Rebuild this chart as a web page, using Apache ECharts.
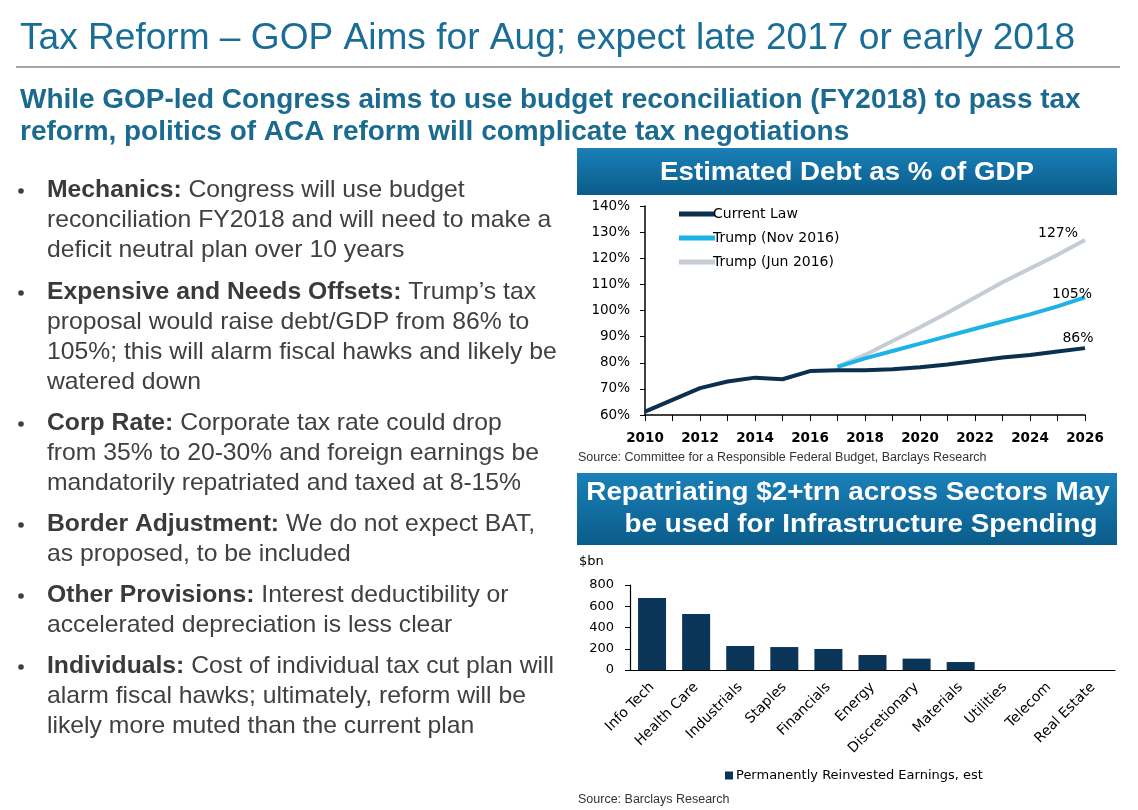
<!DOCTYPE html>
<html>
<head>
<meta charset="utf-8">
<script src="https://cdn.jsdelivr.net/npm/echarts@6/dist/echarts.min.js"></script>
<style>
html,body{margin:0;padding:0;background:#fff;}
#c{width:1138px;height:810px;}
</style>
</head>
<body>
<div id="c"></div>
<script>
// ---- data ----
var years = ['2010','2011','2012','2013','2014','2015','2016','2017','2018','2019','2020','2021','2022','2023','2024','2025','2026'];
var currentLaw = [61.3, 65.8, 70.3, 72.8, 74.3, 73.7, 76.8, 77.1, 77.1, 77.5, 78.3, 79.3, 80.7, 82.0, 83.0, 84.3, 85.6];
var trumpNov = [null, null, null, null, null, null, null, 78.4, 81.7, 84.5, 87.3, 90.2, 93.0, 95.8, 98.5, 101.6, 105.0];
var trumpJun = [null, null, null, null, null, null, null, 78.4, 83.0, 88.3, 93.6, 99.1, 105.0, 110.8, 116.1, 121.3, 127.0];
var endLabels = ['86%', '105%', '127%'];
var sectors = ['Info Tech','Health Care','Industrials','Staples','Financials','Energy','Discretionary','Materials','Utilities','Telecom','Real Estate'];
var earnings = [677, 527, 226, 216, 198, 141, 107, 75, 0, 0, 0];

var FONT = '"Liberation Sans", Arial, sans-serif';
var CFONT = '"DejaVu Sans", Verdana, sans-serif';
var chart = echarts.init(document.getElementById('c'));

var bullets = [
  { y: 175, t: '{b|Mechanics:} Congress will use budget\nreconciliation FY2018 and will need to make a\ndeficit neutral plan over 10 years' },
  { y: 277, t: '{b|Expensive and Needs Offsets:} Trump\u2019s tax\nproposal would raise debt/GDP from 86% to\n105%; this will alarm fiscal hawks and likely be\nwatered down' },
  { y: 408, t: '{b|Corp Rate:} Corporate tax rate could drop\nfrom 35% to 20-30% and foreign earnings be\nmandatorily repatriated and taxed at 8-15%' },
  { y: 509, t: '{b|Border Adjustment:} We do not expect BAT,\nas proposed, to be included' },
  { y: 580, t: '{b|Other Provisions:} Interest deductibility or\naccelerated depreciation is less clear' },
  { y: 651, t: '{b|Individuals:} Cost of individual tax cut plan will\nalarm fiscal hawks; ultimately, reform will be\nlikely more muted than the current plan' }
];

var bannerFill = function () {
  return new echarts.graphic.LinearGradient(0, 0, 0, 1, [{ offset: 0, color: '#1a80b8' }, { offset: 1, color: '#0a5c8a' }]);
};

var graphics = [
  { type: 'text', x: 20, y: 39, scaleX: 1.03, style: { text: 'Tax Reform \u2013 GOP Aims for Aug; expect late 2017 or early 2018',
      font: '36px ' + FONT, fill: '#1a6d97', textVerticalAlign: 'middle' } },
  { type: 'rect', shape: { x: 16, y: 66, width: 1104, height: 2 }, style: { fill: '#a6a6a6' } },
  { type: 'text', x: 20, y: 85, scaleX: 1.035, style: { text: 'While GOP-led Congress aims to use budget reconciliation (FY2018) to pass tax\nreform, politics of ACA reform will complicate tax negotiations',
      font: 'bold 27px ' + FONT, fill: '#1b6a8f', lineHeight: 32 } },
  { type: 'rect', shape: { x: 577, y: 148, width: 540, height: 47 }, style: { fill: bannerFill() } },
  { type: 'text', x: 847, y: 173, scaleX: 1.065, style: { text: 'Estimated Debt as % of GDP', font: 'bold 26px ' + FONT, fill: '#fff',
      textAlign: 'center', textVerticalAlign: 'middle' } },
  { type: 'text', x: 578, y: 451, style: { text: 'Source: Committee for a Responsible Federal Budget, Barclays Research',
      font: '12.5px ' + FONT, fill: '#333' } },
  { type: 'rect', shape: { x: 577, y: 473, width: 540, height: 72 }, style: { fill: bannerFill() } },
  { type: 'text', x: 848, y: 493, scaleX: 1.07, style: { text: 'Repatriating $2+trn across Sectors May', font: 'bold 26px ' + FONT, fill: '#fff',
      textAlign: 'center', textVerticalAlign: 'middle' } },
  { type: 'text', x: 861, y: 525, scaleX: 1.07, style: { text: 'be used for Infrastructure Spending', font: 'bold 26px ' + FONT, fill: '#fff',
      textAlign: 'center', textVerticalAlign: 'middle' } },
  { type: 'text', x: 579, y: 555, style: { text: '$bn', font: '13px ' + CFONT, fill: '#000' } },
  { type: 'text', x: 578, y: 793, style: { text: 'Source: Barclays Research', font: '12.5px ' + FONT, fill: '#333' } }
];
bullets.forEach(function (b) {
  graphics.push({ type: 'circle', shape: { cx: 21, cy: b.y + 16, r: 2.8 }, style: { fill: '#404040' } });
  graphics.push({ type: 'text', x: 47, y: b.y, scaleX: 1.03, style: {
    text: b.t, font: '24px ' + FONT, fill: '#404040', lineHeight: 30,
    rich: { b: { font: 'bold 24px ' + FONT, fill: '#3a3a3a', lineHeight: 30 } }
  } });
});

function endLabel(text, offset) {
  return { show: true, formatter: text, color: '#000', fontSize: 14, fontFamily: CFONT,
    align: 'center', verticalAlign: 'middle', distance: 0, offset: offset };
}

var option = {
  backgroundColor: '#fff',
  animation: false,
  textStyle: { fontFamily: CFONT },
  graphic: graphics,
  legend: [
    { orient: 'vertical', left: 674, top: 202, itemWidth: 36, itemHeight: 5, itemGap: 10, icon: 'rect',
      textStyle: { fontSize: 14, color: '#000', fontFamily: CFONT, padding: [0, 0, 0, -7] },
      data: ['Current Law', 'Trump (Nov 2016)', 'Trump (Jun 2016)'] },
    { left: 720, top: 764, itemWidth: 8, itemHeight: 8, icon: 'rect', itemGap: 4,
      textStyle: { fontSize: 13, color: '#000', fontFamily: CFONT, padding: [0, 0, 0, -2] },
      data: ['Permanently Reinvested Earnings, est'] }
  ],
  grid: [
    { left: 645, top: 206, width: 440, height: 209 },
    { left: 630, top: 585, width: 485, height: 85 }
  ],
  xAxis: [
    { type: 'category', gridIndex: 0, data: years, boundaryGap: false,
      axisLine: { lineStyle: { color: '#000', width: 1.5 } },
      axisTick: { interval: 0, length: 6, lineStyle: { color: '#000' } },
      axisLabel: { interval: 1, color: '#000', fontSize: 13.5, fontWeight: 'bold', fontFamily: CFONT, margin: 16 },
      splitLine: { show: false } },
    { type: 'category', gridIndex: 1, data: sectors,
      axisLine: { lineStyle: { color: '#000', width: 1.2 } },
      axisTick: { length: 6, lineStyle: { color: '#000' } },
      axisLabel: { interval: 0, rotate: 45, color: '#000', fontSize: 14, fontFamily: CFONT, margin: 15 } }
  ],
  yAxis: [
    { type: 'value', gridIndex: 0, min: 60, max: 140, interval: 10,
      axisLine: { show: true, lineStyle: { color: '#000', width: 1.5 } },
      axisTick: { show: true, length: 5, lineStyle: { color: '#000' } },
      axisLabel: { formatter: '{value}%', color: '#000', fontSize: 13.5, fontFamily: CFONT, margin: 15 },
      splitLine: { show: false } },
    { type: 'value', gridIndex: 1, min: 0, max: 800, interval: 200,
      axisLine: { show: true, lineStyle: { color: '#000', width: 1.2 } },
      axisTick: { show: true, length: 5, lineStyle: { color: '#000' } },
      axisLabel: { color: '#000', fontSize: 13, fontFamily: CFONT, margin: 16 },
      splitLine: { show: false } }
  ],
  series: [
    { name: 'Trump (Jun 2016)', type: 'line', xAxisIndex: 0, yAxisIndex: 0, data: trumpJun,
      symbol: 'none', lineStyle: { width: 4, color: '#c5ccd3' }, itemStyle: { color: '#c5ccd3' }, z: 2,
      endLabel: endLabel(endLabels[2], [-27, -7]) },
    { name: 'Trump (Nov 2016)', type: 'line', xAxisIndex: 0, yAxisIndex: 0, data: trumpNov,
      symbol: 'none', lineStyle: { width: 4, color: '#1db3e6' }, itemStyle: { color: '#1db3e6' }, z: 3,
      endLabel: endLabel(endLabels[1], [-13, -3]) },
    { name: 'Current Law', type: 'line', xAxisIndex: 0, yAxisIndex: 0, data: currentLaw,
      symbol: 'none', lineStyle: { width: 4, color: '#0b2f4e' }, itemStyle: { color: '#0b2f4e' }, z: 4,
      endLabel: endLabel(endLabels[0], [-7, -10]) },
    { name: 'Permanently Reinvested Earnings, est', type: 'bar', xAxisIndex: 1, yAxisIndex: 1, data: earnings,
      barWidth: 28, itemStyle: { color: '#0b3558' } }
  ]
};
chart.setOption(option);
</script>
</body>
</html>
